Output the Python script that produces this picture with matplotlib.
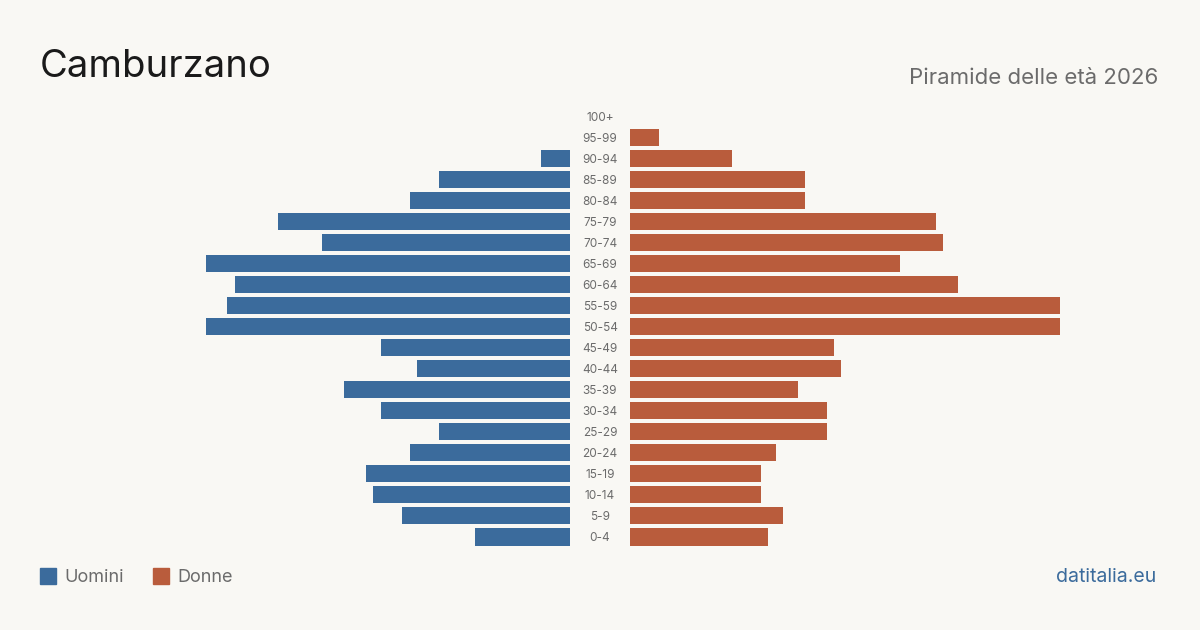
import matplotlib
matplotlib.use("Agg")
import matplotlib.pyplot as plt
from matplotlib.patches import Rectangle

age_groups = ["0-4", "5-9", "10-14", "15-19", "20-24", "25-29", "30-34", "35-39",
              "40-44", "45-49", "50-54", "55-59", "60-64", "65-69", "70-74",
              "75-79", "80-84", "85-89", "90-94", "95-99", "100+"]
men = [13, 23, 27, 28, 22, 18, 26, 31, 21, 26, 50, 47, 46, 50, 34, 40, 22, 18, 4, 0, 0]
women = [19, 21, 18, 18, 20, 27, 27, 23, 29, 28, 59, 59, 45, 37, 43, 42, 24, 24, 14, 4, 0]

title = "Camburzano"
subtitle = "Piramide delle età 2026"
source = "datitalia.eu"

BG = "#f9f8f4"
BLUE = "#3b6b9c"
ORANGE = "#b95c3c"
GRAY = "#6b6b6b"

plt.rcParams['font.family'] = ['Inter', 'DejaVu Sans']

W, H = 1200, 630
fig = plt.figure(figsize=(12, 6.3), dpi=100, facecolor=BG)

S = 430 / 59.0  # px per unit
bottom_px = 547.5
top_px = 105.5
ax_b = 1 - bottom_px / H
ax_h = (bottom_px - top_px) / H

left_x0, left_x1 = 100, 570
right_x0, right_x1 = 630, 1100

axL = fig.add_axes([left_x0 / W, ax_b, (left_x1 - left_x0) / W, ax_h])
axR = fig.add_axes([right_x0 / W, ax_b, (right_x1 - right_x0) / W, ax_h])

ypos = list(range(len(age_groups)))
axL.barh(ypos, men, height=0.81, color=BLUE)
axR.barh(ypos, women, height=0.81, color=ORANGE)
axL.set_xlim((left_x1 - left_x0) / S, 0)
axR.set_xlim(0, (right_x1 - right_x0) / S)
for ax in (axL, axR):
    ax.set_ylim(-0.5, len(age_groups) - 0.5)
    ax.axis("off")
    ax.set_facecolor("none")

for i, lab in enumerate(age_groups):
    y = ax_b + (i + 0.5) / len(age_groups) * ax_h - 1.5 / H
    fig.text(600 / W, y, lab, ha="center", va="center", fontsize=8.5, color=GRAY)

fig.text(40 / W, 1 - 67 / H, title, fontsize=27.5, color="#1a1a1a", ha="left", va="center")
fig.text(1158 / W, 1 - 77.5 / H, subtitle, fontsize=16, color=GRAY, ha="right", va="center")

fig.patches.append(Rectangle((40 / W, 1 - 584 / H), 16 / W, 16 / H, transform=fig.transFigure,
                             color=BLUE, figure=fig))
fig.text(64 / W, 1 - 577.5 / H, "Uomini", fontsize=13, color=GRAY, ha="left", va="center")
fig.patches.append(Rectangle((153 / W, 1 - 584 / H), 16 / W, 16 / H, transform=fig.transFigure,
                             color=ORANGE, figure=fig))
fig.text(177 / W, 1 - 577.5 / H, "Donne", fontsize=13, color=GRAY, ha="left", va="center")
fig.text(1156 / W, 1 - 577 / H, source, fontsize=14, color=BLUE, ha="right", va="center")

fig.savefig("out.png", dpi=100, facecolor=BG)
